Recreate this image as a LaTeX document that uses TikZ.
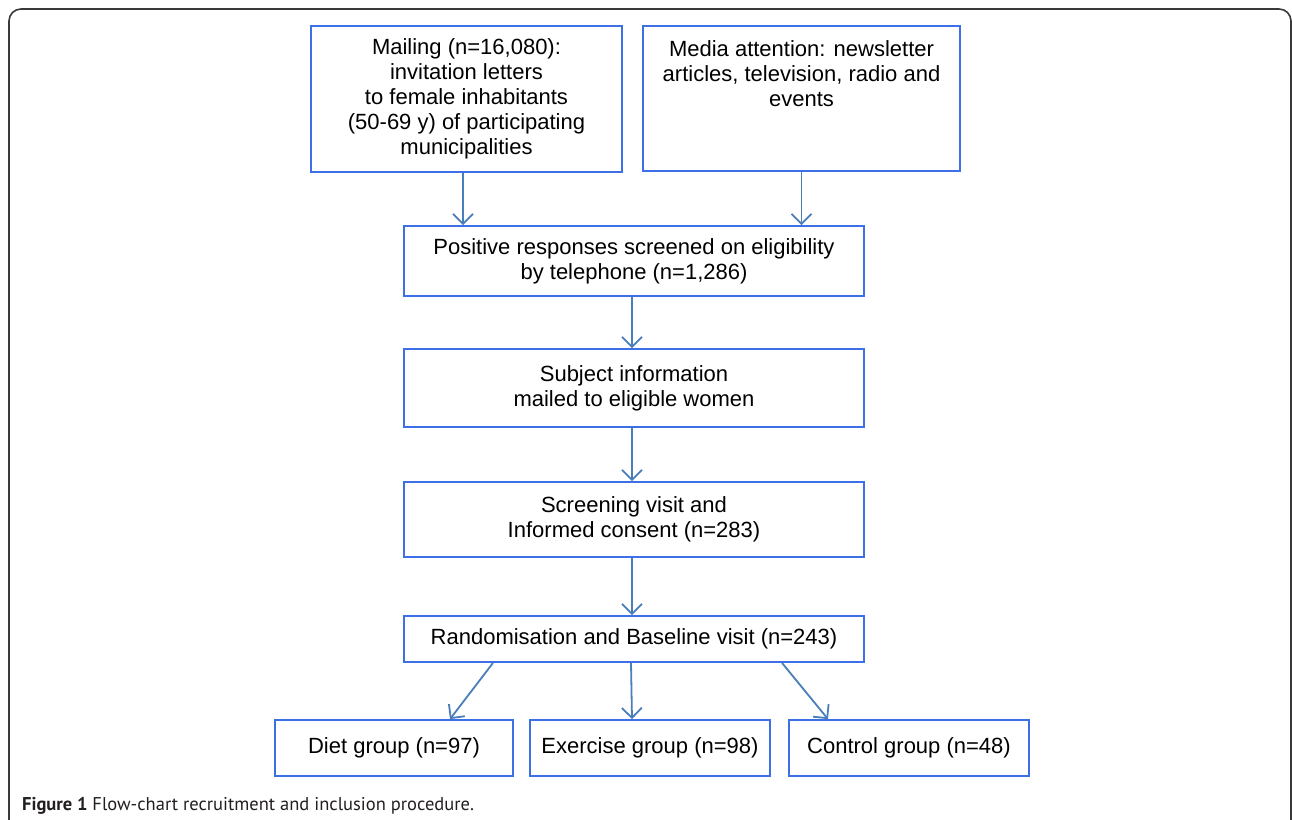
\documentclass[tikz,border=0pt]{standalone}
\usepackage{fontspec}
\setmainfont{Liberation Sans}
\newfontfamily\capfont{PT Sans}
\usetikzlibrary{arrows.meta}
\definecolor{boxblue}{HTML}{3D6FE6}
\definecolor{arrowblue}{HTML}{4A7EBB}
\definecolor{framegray}{HTML}{3A3A3A}
\definecolor{captext}{HTML}{231F20}

\begin{document}
\begin{tikzpicture}[x=1pt,y=-1pt,
  stage/.style={draw=boxblue,line width=1.8pt,align=center,inner sep=0pt,
    font=\fontsize{22}{25}\selectfont},
  flow/.style={draw=arrowblue,line width=1.8pt,
    -{Straight Barb[length=10pt,width=20pt,line width=1.8pt]}}]
\useasboundingbox (0,0) rectangle (1292,819);
\clip (0,0) rectangle (1292,819);
\draw[framegray,line width=1.6pt,rounded corners=12pt] (9,840) -- (9,9) -- (1291,9) -- (1291,840); % outer frame

% sources
\node[stage,minimum width=311pt,minimum height=146pt] at (466.5,99) (mail)
  {Mailing (n=16,080):\\ invitation letters\\ to female inhabitants\\ (50-69 y) of participating\\ municipalities};
\node[stage,minimum width=317pt,minimum height=145pt] at (801.5,98.5) (media)
  {Media attention: newsletter\\ articles, television, radio and\\ events\\ \mbox{}\\ \mbox{}};

% main line
\node[stage,minimum width=460pt,minimum height=70pt] at (634,261) (phone)
  {Positive responses screened on eligibility\\ by telephone (n=1,286)};
\node[stage,minimum width=460pt,minimum height=78pt] at (634,388) (info)
  {Subject information\\ mailed to eligible women};
\node[stage,minimum width=460pt,minimum height=75pt] at (634,519.5) (visit)
  {Screening visit and\\ Informed consent (n=283)};
\node[stage,minimum width=460pt,minimum height=46pt] at (634,639) (random)
  {Randomisation and Baseline visit (n=243)};

% groups
\node[stage,minimum width=238pt,minimum height=56pt] at (394,748) (diet) {Diet group (n=97)};
\node[stage,minimum width=240pt,minimum height=56pt] at (650,748) (exercise) {Exercise group (n=98)};
\node[stage,minimum width=240pt,minimum height=56pt] at (909,748) (control) {Control group (n=48)};

\draw[flow] ([xshift=-3.5pt]mail.south) -- ([xshift=-3.5pt]mail.south |- phone.north);
\draw[flow] (media.south) -- (media.south |- phone.north);
\draw[flow] ([xshift=-2pt]phone.south) -- ([xshift=-2pt]phone.south |- info.north);
\draw[flow] ([xshift=-2pt]info.south) -- ([xshift=-2pt]info.south |- visit.north);
\draw[flow] ([xshift=-2pt]visit.south) -- ([xshift=-2pt]visit.south |- random.north);
\draw[flow] ([xshift=-141pt]random.south) -- ([xshift=56pt]diet.north);
\draw[flow] ([xshift=-3pt]random.south) -- ([xshift=-18pt]exercise.north);
\draw[flow] ([xshift=148pt]random.south) -- ([xshift=-81pt]control.north);

\node[anchor=base west,text=captext,font=\capfont\fontsize{18.5}{22}\selectfont,inner sep=0pt] at (22,810) (caption)
  {\textbf{Figure 1} Flow-chart recruitment and inclusion procedure.};
\end{tikzpicture}
\end{document}
